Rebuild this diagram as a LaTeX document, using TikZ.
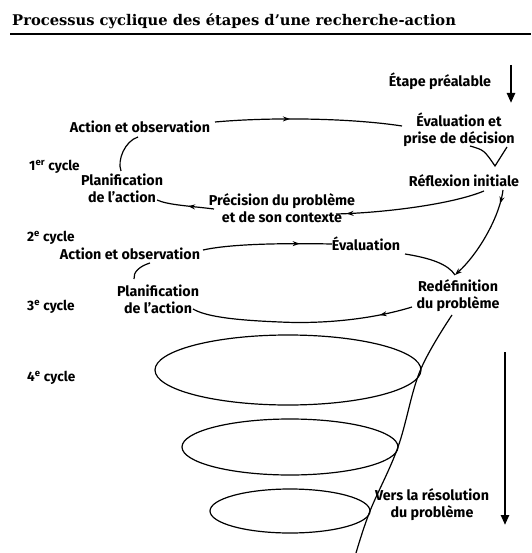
\documentclass[tikz,border=0pt]{standalone}
\usepackage{fontspec}
\newfontfamily\lab{Fira Sans}
\newfontfamily\titlefont{DejaVu Serif}
\usetikzlibrary{arrows.meta,decorations.markings}

\tikzset{
  lbl/.style={font=\lab\bfseries\fontsize{14.3}{17}\selectfont, align=center, inner sep=1pt},
  cyc/.style={font=\lab\bfseries\fontsize{13.6}{15}\selectfont, anchor=west, inner sep=0pt},
  conn/.style={line width=1.2pt},
  tipstyle/.style={-{Stealth[length=7pt,width=5pt]}},
  midarrow/.style={postaction={decorate}, decoration={markings,
      mark=at position #1 with {\arrow{Stealth[length=7pt,width=5pt]}}}},
  bigarrow/.style={line width=2.4pt, -{Triangle[length=10pt,width=8pt]}},
  loop/.style={line width=1.2pt}
}

\begin{document}
\begin{tikzpicture}[x=1pt,y=-1pt]
\useasboundingbox (0,0) rectangle (531,553);

% heading and rule
\node[anchor=base west, inner sep=0pt, font=\titlefont\bfseries\fontsize{14.7}{17}\selectfont]
  (title) at (12,25.5) {Processus cyclique des étapes d’une recherche-action};
\coordinate (ruleL) at (10,34);
\coordinate (ruleR) at (531,34);
\draw[line width=2.4pt] (ruleL) -- (ruleR);

% labels
\node[lbl] (pre)   at (440,81)  {Étape préalable};
\node[lbl] (ao1)   at (140,127) {Action et observation};
\node[lbl] (eval1) at (459,130) {Évaluation et\\prise de décision};
\node[cyc] (c1)    at (29,167)  {1\textsuperscript{er} cycle};
\node[lbl] (plan1) at (122,188) {Planification\\de l’action};
\node[lbl] (refl)  at (464,181) {Réflexion initiale};
\node[lbl] (prec)  at (282,208) {Précision du problème\\et de son contexte};
\node[cyc] (c2)    at (27,238)  {2\textsuperscript{e} cycle};
\node[lbl] (ao2)   at (130,254) {Action et observation};
\node[lbl] (eval2) at (366,244) {Évaluation};
\node[lbl] (plan2) at (158,299) {Planification\\de l’action};
\node[cyc] (c3)    at (27,307)  {3\textsuperscript{e} cycle};
\node[lbl] (redef) at (458,296) {Redéfinition\\du problème};
\node[cyc] (c4)    at (27,378)  {4\textsuperscript{e} cycle};
\node[lbl] (vers)  at (432,505) {Vers la résolution\\du problème};

% vertical arrows
\coordinate (preA) at (511,65);
\coordinate (preB) at (511,103);
\draw[bigarrow] (preA) -- (preB);
\coordinate (resA) at (505,352);
\coordinate (resB) at (505,525);
\draw[bigarrow] (resA) -- (resB);

% first cycle
\draw[conn, midarrow=0.4] ([shift={(75,-5)}]ao1.center)
  .. controls (270,117) and (350,118) .. ([shift={(-57,-4)}]eval1.center);
\draw[conn] ([shift={(-2,10)}]ao1.center)
  .. controls (125,141) and (117,160) .. ([shift={(-1,-17)}]plan1.center);
\draw[conn] ([shift={(11,16)}]eval1.center) .. controls (484,150) .. ([shift={(36,36)}]eval1.center)
  -- ([shift={(48,17)}]eval1.center);
\draw[conn, midarrow=0.93] ([shift={(20,10)}]refl.center)
  .. controls (450,205) and (380,213) .. ([shift={(54,6)}]prec.center);
\draw[conn, midarrow=0.45] ([shift={(-68,1)}]prec.center)
  .. controls (190,206) and (168,205) .. ([shift={(35,12)}]plan1.center);

% link to second cycle
\draw[conn, midarrow=0.14, tipstyle] ([shift={(39,9)}]refl.center)
  .. controls (500,215) and (480,252) .. ([shift={(-3,-21)}]redef.center);

% second cycle
\draw[conn, midarrow=0.75] ([shift={(73,-4)}]ao2.center)
  .. controls (230,244) and (280,243) .. ([shift={(-34,0)}]eval2.center);
\draw[conn] ([shift={(39,10)}]eval2.center)
  .. controls (430,258) and (448,264) .. ([shift={(-3,-21)}]redef.center);
\draw[conn] ([shift={(20,9)}]ao2.center)
  .. controls (140,266) and (133,272) .. ([shift={(-24,-20)}]plan2.center);
\draw[conn, midarrow=0.15] ([shift={(-46,11)}]redef.center)
  .. controls (370,320) and (320,324) .. (280,322)
  .. controls (230,320) and (205,316) .. ([shift={(35,10)}]plan2.center);

% later cycles
\draw[loop] (288,370) ellipse [x radius=133, y radius=35];
\draw[loop] (290,447) ellipse [x radius=108, y radius=28];
\draw[loop] (290,511) ellipse [x radius=80, y radius=22];
\draw[conn] plot[smooth, tension=0.6] coordinates
  {([shift={(-6,19)}]redef.center) (420,371) (398,447) (370,511) (356,553)};
\end{tikzpicture}
\end{document}
